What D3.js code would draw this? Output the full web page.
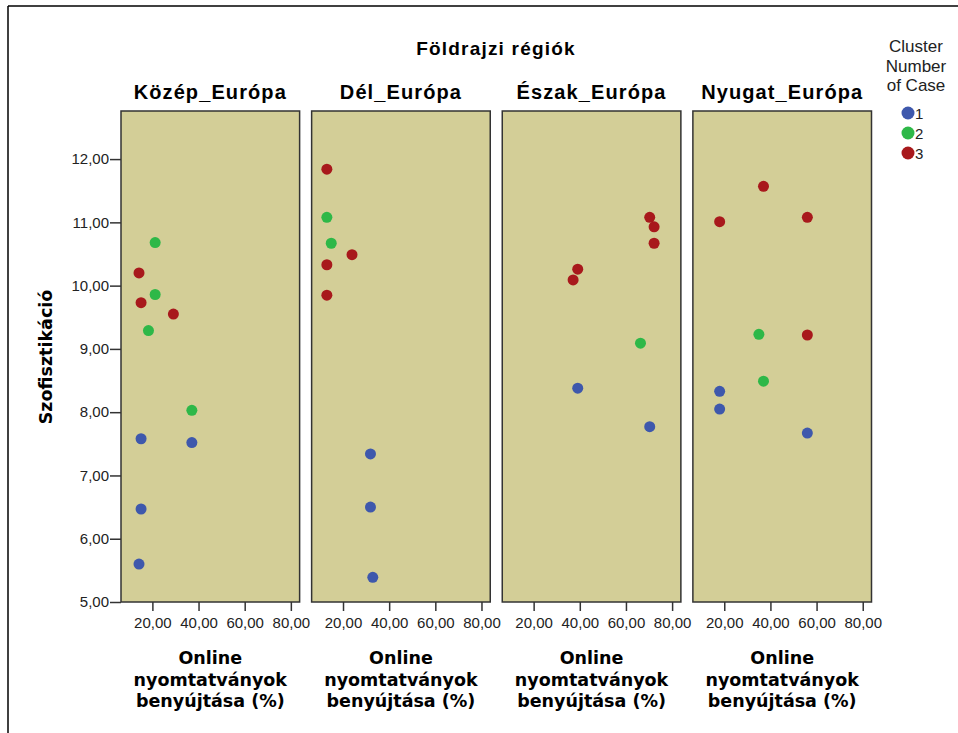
<!DOCTYPE html>
<html>
<head>
<meta charset="utf-8">
<script src="https://cdn.jsdelivr.net/npm/d3@7"></script>
<style>
  html, body { margin: 0; padding: 0; background: #fff; }
  svg { display: block; }
</style>
</head>
<body>
<svg id="chart" width="958" height="733"></svg>
<script>
// ---- data ----
const regions = ["Közép_Európa", "Dél_Európa", "Észak_Európa", "Nyugat_Európa"];
const clusters = ["1", "2", "3"];
const xTicks = [20, 40, 60, 80];
const yTicks = [5, 6, 7, 8, 9, 10, 11, 12];

const pointRegion = [
  "Közép_Európa","Közép_Európa","Közép_Európa","Közép_Európa","Közép_Európa","Közép_Európa",
  "Közép_Európa","Közép_Európa","Közép_Európa","Közép_Európa","Közép_Európa",
  "Dél_Európa","Dél_Európa","Dél_Európa","Dél_Európa","Dél_Európa","Dél_Európa",
  "Dél_Európa","Dél_Európa","Dél_Európa",
  "Észak_Európa","Észak_Európa","Észak_Európa","Észak_Európa","Észak_Európa",
  "Észak_Európa","Észak_Európa","Észak_Európa",
  "Nyugat_Európa","Nyugat_Európa","Nyugat_Európa","Nyugat_Európa","Nyugat_Európa",
  "Nyugat_Európa","Nyugat_Európa","Nyugat_Európa","Nyugat_Európa"
];
const pointCluster = [
  "2","3","2","3","3","2",
  "2","1","1","1","1",
  "3","2","2","3","3","3",
  "1","1","1",
  "3","3","3","3","3",
  "2","1","1",
  "3","3","3","2","3",
  "2","1","1","1"
];
const pointX = [
  21.2, 14.2, 21.2, 15.1, 29.1, 18.3,
  37.1, 15.1, 37.1, 15.1, 14.2,
  13.0, 13.0, 14.9, 23.9, 13.0, 13.0,
  31.9, 31.9, 32.9,
  70.3, 72.2, 72.2, 39.1, 37.1,
  66.3, 39.1, 70.3,
  37.0, 18.0, 56.0, 35.0, 56.0,
  37.0, 18.0, 18.0, 56.0
];
const pointY = [
  10.68, 10.20, 9.86, 9.73, 9.55, 9.29,
  8.03, 7.58, 7.52, 6.47, 5.60,
  11.84, 11.08, 10.67, 10.49, 10.33, 9.85,
  7.34, 6.50, 5.39,
  11.08, 10.93, 10.67, 10.26, 10.09,
  9.09, 8.38, 7.77,
  11.57, 11.01, 11.08, 9.23, 9.22,
  8.49, 8.33, 8.05, 7.67
];

const clusterColors = ["#3e58ac", "#2eb848", "#a8191c"];

// ---- layout ----
const svg = d3.select("#chart");
const panelTop = 111, panelBottom = 602;
const panelScale = d3.scaleBand().domain(regions).range([121, 871.5]).paddingInner(0.063);
const pw = panelScale.bandwidth();

const x = d3.scaleLinear().domain([6.4, 83.8]).range([0, pw]);
const y = d3.scaleLinear().domain([5, 12.76]).range([panelBottom, panelTop]);
const color = d3.scaleOrdinal().domain(clusters).range(clusterColors);
const fmt = v => d3.format(".2f")(v).replace(".", ",");

// outer frame (left and top lines)
svg.append("line").attr("x1", 8).attr("x2", 8).attr("y1", 6).attr("y2", 733)
  .attr("stroke", "#000").attr("stroke-width", 1.5);
svg.append("line").attr("x1", 8).attr("x2", 958).attr("y1", 6).attr("y2", 6)
  .attr("stroke", "#000").attr("stroke-width", 1.5);

// main title
svg.append("text").attr("x", 496).attr("y", 55).attr("text-anchor", "middle")
  .attr("font-family", "Liberation Sans, Arial, sans-serif").attr("font-weight", "bold")
  .attr("font-size", 19).attr("letter-spacing", 1.2).attr("fill", "#000").text("Földrajzi régiók");

// panels
regions.forEach(r => {
  const px = panelScale(r);
  const g = svg.append("g").attr("transform", `translate(${px},0)`);
  g.append("text").attr("x", pw / 2).attr("y", 99).attr("text-anchor", "middle")
    .attr("font-family", "Liberation Sans, Arial, sans-serif").attr("font-weight", "bold")
    .attr("font-size", 20).attr("letter-spacing", 1.1).attr("fill", "#000").text(r);
  g.append("rect").attr("x", 0).attr("y", panelTop).attr("width", pw).attr("height", panelBottom - panelTop)
    .attr("fill", "#d3ce97").attr("stroke", "#333").attr("stroke-width", 1.5);

  const xa = g.append("g").attr("transform", `translate(0,${panelBottom})`)
    .call(d3.axisBottom(x).tickValues(xTicks).tickFormat(fmt).tickSize(9).tickPadding(6));
  xa.select(".domain").remove();
  xa.selectAll("line").attr("stroke", "#333").attr("stroke-width", 1.5);
  xa.selectAll("text").attr("font-family", "Liberation Sans, Arial, sans-serif")
    .attr("font-size", 15).attr("fill", "#222");

  const tl = g.append("text").attr("text-anchor", "middle")
    .attr("font-family", "DejaVu Sans, Verdana, sans-serif").attr("font-weight", "bold")
    .attr("font-size", 17.5).attr("fill", "#000");
  ["Online", "nyomtatványok", "benyújtása (%)"].forEach((t, i) => {
    tl.append("tspan").attr("x", pw / 2).attr("y", 664 + i * 21.5).text(t);
  });

  const idx = d3.range(pointX.length).filter(i => pointRegion[i] === r);
  g.selectAll("circle.pt").data(idx).join("circle").attr("class", "pt")
    .attr("cx", i => x(pointX[i])).attr("cy", i => y(pointY[i])).attr("r", 5.5)
    .attr("fill", i => color(pointCluster[i]));
});

// y axis on first panel
const ya = svg.append("g").attr("transform", `translate(${panelScale(regions[0])},0)`)
  .call(d3.axisLeft(y).tickValues(yTicks).tickFormat(fmt).tickSize(11).tickPadding(1));
ya.select(".domain").remove();
ya.selectAll("line").attr("stroke", "#333").attr("stroke-width", 1.5);
ya.selectAll("text").attr("font-family", "Liberation Sans, Arial, sans-serif")
  .attr("font-size", 15).attr("fill", "#222");

svg.append("text").attr("transform", "translate(52,357) rotate(-90)").attr("text-anchor", "middle")
  .attr("font-family", "DejaVu Sans, Verdana, sans-serif").attr("font-weight", "bold")
  .attr("font-size", 17.5).attr("fill", "#000").text("Szofisztikáció");

// legend
const lt = svg.append("text").attr("text-anchor", "middle")
  .attr("font-family", "Liberation Sans Narrow, Arial Narrow, Liberation Sans, sans-serif")
  .attr("font-size", 17).attr("fill", "#222");
["Cluster", "Number", "of Case"].forEach((t, i) => {
  lt.append("tspan").attr("x", 916).attr("y", 52 + i * 19.5).text(t);
});
const lg = svg.append("g");
clusters.forEach((c, i) => {
  lg.append("circle").attr("cx", 908).attr("cy", 113 + i * 20).attr("r", 6.5).attr("fill", color(c));
  lg.append("text").attr("x", 915).attr("y", 118.5 + i * 20)
    .attr("font-family", "Liberation Sans, Arial, sans-serif").attr("font-size", 15)
    .attr("fill", "#222").text(c);
});
</script>
</body>
</html>
